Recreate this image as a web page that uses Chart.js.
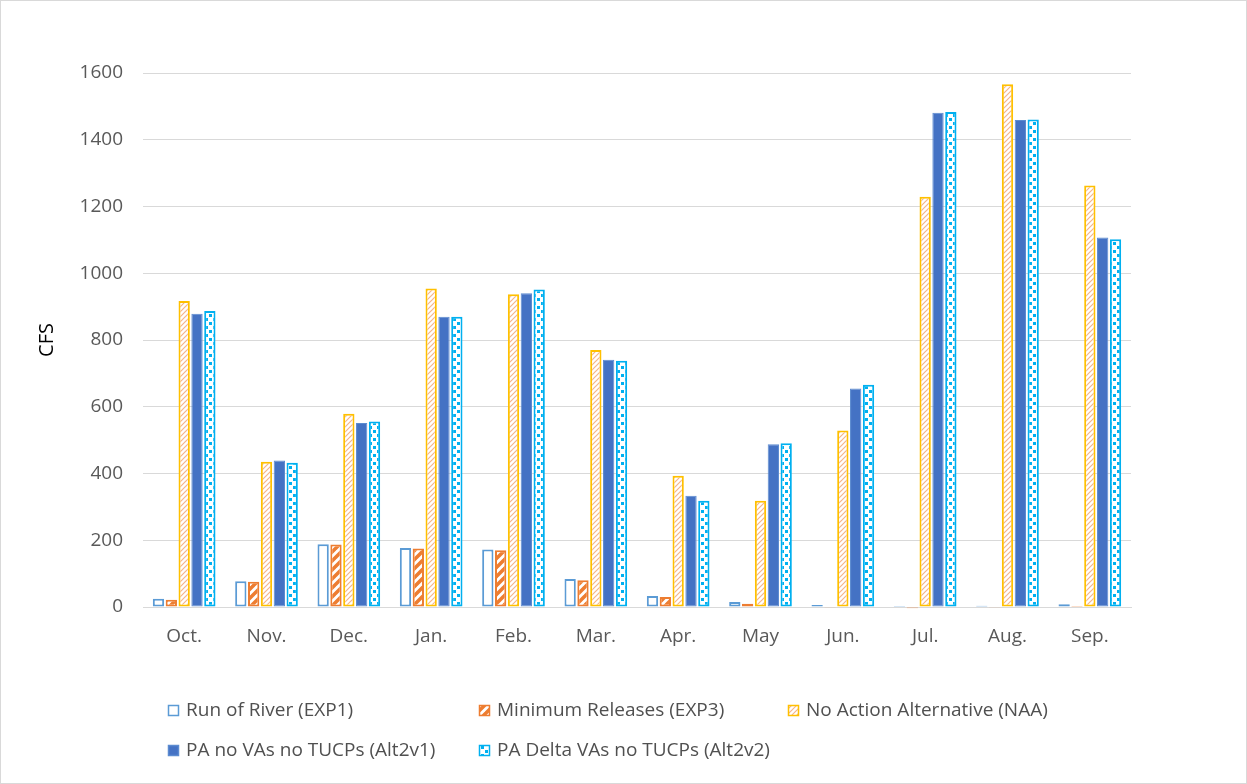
<!DOCTYPE html>
<html>
<head>
<meta charset="utf-8">
<script src="https://cdn.jsdelivr.net/npm/chart.js@4"></script>
<style>
  html, body { margin: 0; padding: 0; background: #fff; }
  #box { width: 1245px; height: 782px; border: 1px solid #d9d9d9; }
</style>
</head>
<body>
<div id="box"><canvas id="cfs-chart" width="1245" height="782"></canvas></div>
<script>
const months = ["Oct.", "Nov.", "Dec.", "Jan.", "Feb.", "Mar.", "Apr.", "May", "Jun.", "Jul.", "Aug.", "Sep."]
const yTicks = [0, 200, 400, 600, 800, 1000, 1200, 1400, 1600]

const runOfRiver = [25, 77, 188, 177, 172, 84, 33, 15, 6, 3, 4, 8]
const minReleases = [22, 76, 187, 175, 170, 80, 30, 10, -2, -4, -2, 3]
const noAction = [917, 435, 579, 954, 937, 770, 393, 318, 529, 1229, 1566, 1263]
const paAlt2v1 = [879, 439, 551, 870, 940, 741, 333, 488, 655, 1481, 1459, 1107]
const paAlt2v2 = [887, 432, 556, 870, 951, 738, 318, 491, 666, 1483, 1461, 1102]

const FONT = "'Open Sans', sans-serif"

function makePattern(size, draw){
    const c = document.createElement("canvas")
    c.width = size; c.height = size
    const p = c.getContext("2d")
    p.fillStyle = "#ffffff"
    p.fillRect(0, 0, size, size)
    draw(p, size)
    return p.createPattern(c, "repeat")
}

function diagonal(color, width){
    return (p, s) => {
        p.strokeStyle = color
        p.lineWidth = width
        p.beginPath()
        for (let k = -1; k <= 1; k++){
            p.moveTo(k * s - 1, s + 1)
            p.lineTo(k * s + s + 1, -1)
        }
        p.stroke()
    }
}

const wideStripes = makePattern(9, diagonal("#ED7D31", 3.6))
const lightStripes = makePattern(5, diagonal("#F6B48A", 1.2))
const confetti = makePattern(8, (p) => {
    p.fillStyle = "#00B0F0"
    p.fillRect(0, 1, 3, 3)
    p.fillRect(4, 5, 3, 3)
})

// fixed grid like the Excel legend
const legendCols = [167, 478, 787]
const legendRows = [710, 750]

const gridLegend = {
    id: "gridLegend",
    afterDraw(chart){
        const ctx = chart.ctx
        ctx.save()
        chart.data.datasets.forEach((ds, i) => {
            const x = legendCols[i % 3]
            const y = legendRows[Math.floor(i / 3)]
            ctx.fillStyle = ds.backgroundColor
            ctx.fillRect(x, y - 6, 11, 11)
            ctx.strokeStyle = ds.borderColor
            ctx.lineWidth = 1.5
            ctx.strokeRect(x + 0.5, y - 5.5, 10, 10)
            ctx.fillStyle = "#505050"
            ctx.font = "19px " + FONT
            ctx.textBaseline = "middle"
            ctx.fillText(ds.label, x + 18, y)
        })
        ctx.restore()
    }
}

new Chart("cfs-chart", {
    type: "bar",
    data: {
        labels: months,
        datasets: [
            { label: "Run of River (EXP1)", data: runOfRiver, backgroundColor: "#ffffff", borderColor: "#5B9BD5", borderWidth: 2 },
            { label: "Minimum Releases (EXP3)", data: minReleases, backgroundColor: wideStripes, borderColor: "#ED7D31", borderWidth: 2, clip: 6 },
            { label: "No Action Alternative (NAA)", data: noAction, backgroundColor: lightStripes, borderColor: "#FFC000", borderWidth: 2 },
            { label: "PA no VAs no TUCPs (Alt2v1)", data: paAlt2v1, backgroundColor: "#4472C4", borderColor: "#5B8BD0", borderWidth: 1 },
            { label: "PA Delta VAs no TUCPs (Alt2v2)", data: paAlt2v2, backgroundColor: confetti, borderColor: "#00B0F0", borderWidth: 2 }
        ]
    },
    options: {
        responsive: false,
        animation: false,
        layout: { padding: { top: 72, right: 115, bottom: 126, left: 34 } },
        datasets: {
            bar: { categoryPercentage: 0.78, barPercentage: 0.88, borderSkipped: false }
        },
        plugins: {
            legend: { display: false },
            tooltip: { enabled: false }
        },
        scales: {
            x: {
                grid: { display: false, drawTicks: false },
                border: { color: "#d9d9d9", width: 1 },
                ticks: { color: "#595959", font: { family: FONT, size: 19 }, padding: 18 },
                afterFit: (scale) => { scale.height = 50 }
            },
            y: {
                min: 0,
                max: 1600,
                afterBuildTicks: (scale) => { scale.ticks = yTicks.map(v => ({ value: v })) },
                grid: { color: "#d9d9d9", drawTicks: false },
                border: { display: false },
                ticks: { color: "#595959", font: { family: FONT, size: 19 }, padding: 20, callback: (v) => String(v) },
                title: { display: true, text: "CFS", color: "#000", font: { family: FONT, size: 20 }, padding: { top: 0, bottom: 0 } },
                afterFit: (scale) => { scale.width = 108 }
            }
        }
    },
    plugins: [gridLegend]
});
</script>
</body>
</html>
